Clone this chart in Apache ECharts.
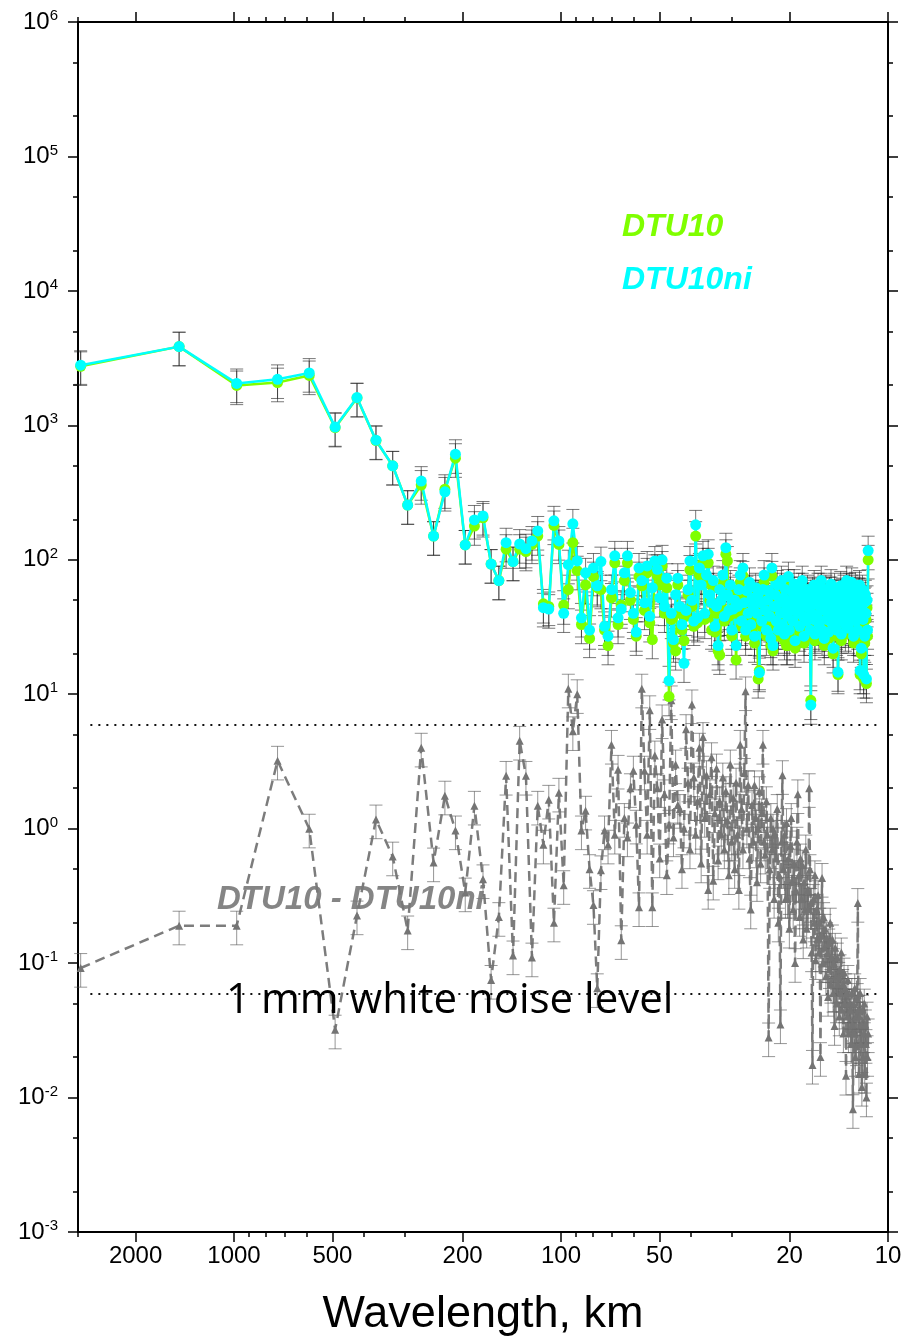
<!DOCTYPE html>
<html>
<head>
<meta charset="utf-8">
<script src="https://cdn.jsdelivr.net/npm/echarts@6/dist/echarts.min.js"></script>
<style>html,body{margin:0;padding:0;background:#fff}#chart{width:906px;height:1342px}</style>
</head>
<body>
<div id="chart"></div>
<script>
// Wavelength of each spectral estimate, km
const wavelengths = [2944,1472,981.3,736,588.8,490.7,420.6,368,327.1,294.4,
267.6,245.3,226.5,210.3,196.3,184,173.2,163.6,154.9,147.2,
140.2,133.8,128,122.7,117.8,113.2,109,105.1,101.5,98.13,
94.97,92,89.21,86.59,84.11,81.78,79.57,77.47,75.49,73.6,
71.8,70.1,68.47,66.91,65.42,64,62.64,61.33,60.08,58.88,
57.73,56.62,55.55,54.52,53.53,52.57,51.65,50.76,49.9,49.07,
48.26,47.48,46.73,46,45.29,44.61,43.94,43.29,42.67,42.06,
41.46,40.89,40.33,39.78,39.25,38.74,38.23,37.74,37.27,36.8,
36.35,35.9,35.47,35.05,34.64,34.23,33.84,33.45,33.08,32.71,
32.35,32,31.66,31.32,30.99,30.67,30.35,30.04,29.74,29.44,
29.15,28.86,28.58,28.31,28.04,27.77,27.51,27.26,27.01,26.76,
26.52,26.29,26.05,25.82,25.6,25.38,25.16,24.95,24.74,24.53,
24.33,24.13,23.93,23.74,23.55,23.37,23.18,23,22.82,22.65,
22.47,22.3,22.14,21.97,21.81,21.65,21.49,21.33,21.18,21.03,
20.88,20.73,20.59,20.44,20.3,20.16,20.03,19.89,19.76,19.63,
19.5,19.37,19.24,19.12,18.99,18.87,18.75,18.63,18.52,18.4,
18.29,18.17,18.06,17.95,17.84,17.73,17.63,17.52,17.42,17.32,
17.22,17.12,17.02,16.92,16.82,16.73,16.63,16.54,16.45,16.36,
16.27,16.18,16.09,16,15.91,15.83,15.74,15.66,15.58,15.49,
15.41,15.33,15.25,15.18,15.1,15.02,14.94,14.87,14.79,14.72,
14.65,14.57,14.5,14.43,14.36,14.29,14.22,14.15,14.09,14.02,
13.95,13.89,13.82,13.76,13.69,13.63,13.57,13.5,13.44,13.38,
13.32,13.26,13.2,13.14,13.08,13.03,12.97,12.91,12.86,12.8,
12.74,12.69,12.64,12.58,12.53,12.47,12.42,12.37,12.32,12.27,
12.22,12.17,12.12,12.07,12.02,11.97,11.92,11.87,11.82,11.78,
11.73,11.68,11.64,11.59,11.55,11.5];

const dtu10ni = [2800,3850,2050,2200,2450,970,1610,775,500,255,
385,150,320,610,129,198,212,93,70,134,
97,131,121,138,164,44,43,195,138,40,
92,185,98,37,80,30,87,64,97,32,
27,60,107,37,43,80,107,57,40,29,
87,70,48,90,38,62,98,85,52,100,
45,73,12.6,40,25.5,55,73,45,33,17,
42,60,98,50,35,182,37,87,65,107,
40,77,110,55,48,70,32,45,23,60,
50,77,38,123,55,42,65,30,43,50,
23,45,60,77,35,87,48,30,59,40,
68,33,52,45,27,62,40,55,14.5,48,
35,60,77,42,30,50,59,38,26,87,
23,45,55,35,65,30,48,40,70,33,
52,28,60,45,38,75,30,50,42,58,
35,66,25,48,55,40,62,32,50,45,
70,38,27,55,48,35,60,44,52,30,
8.3,40,58,36,65,28,47,55,38,62,
33,50,44,70,30,48,57,26,42,60,
36,53,45,29,58,40,66,34,50,22,
45,62,38,55,30,48,14.6,35,52,42,
64,28,46,57,37,60,43,33,54,70,
40,50,31,62,45,55,36,68,40,50,
27,58,44,63,35,52,47,30,57,40,
65,15,50,22,45,60,36,14,48,27,
55,40,13,50,30,117];

const dtu10 = [2750,3850,1980,2080,2350,960,1600,770,500,255,
360,150,335,570,129,178,205,93,70,120,
97,120,115,130,150,47,45,180,130,46,
60,134,83,33,65,26,75,62,60,30,
23,52,95,33,46,70,95,50,36,27,
75,64,42,80,34,25.5,85,76,65,90,
40,62,9.6,36,24,21,65,40,30,25,
38,55,84,45,32,150,34,77,77,95,
36,68,95,50,30,62,29,40,21,19.5,
45,68,35,110,98,38,58,27,40,45,
18,40,52,68,32,76,43,27,52,36,
60,30,46,40,24,55,36,13,15,43,
32,53,68,38,27,45,52,34,23,76,
21,40,48,32,57,27,43,36,62,30,
46,25,53,23,23,66,27,44,38,51,
32,58,22,43,49,36,55,29,45,40,
62,34,24,49,43,31,53,39,46,27,
9,36,51,32,57,25,42,49,34,55,
29,44,39,62,27,43,50,23,37,53,
32,47,40,26,51,36,58,30,44,20,
40,55,34,49,27,43,14,31,46,37,
56,25,41,50,33,53,38,29,48,62,
36,44,28,55,40,49,32,60,36,44,
24,51,39,56,31,46,42,27,50,36,
57,14,44,20,40,53,32,13,43,24,
49,36,12,44,27,100];

const difference = [0.092,0.19,0.19,3.2,1.0,0.032,0.226,1.17,0.62,0.175,
4.0,0.56,1.76,0.97,0.335,1.48,0.42,0.075,0.22,2.47,
0.114,4.5,2.47,0.11,1.48,0.76,1.64,0.2,1.85,0.38,
11,5.3,10,0.97,1.36,0.5,0.27,0.065,0.49,0.97,
0.76,4.2,0.9,2.74,0.148,1.2,0.86,2.0,2.7,1.07,
0.26,11,2.7,0.9,7.6,0.26,3.5,2.0,0.6,6.5,
1.8,0.45,1.07,9,0.86,3.0,1.5,1.4,0.5,1.0,
5.5,2.2,0.7,8.4,2.4,0.9,1.6,4.0,0.55,4.8,
1.2,2.5,0.35,1.8,3.4,0.41,1.3,2.8,0.58,1.6,
0.9,2.4,0.7,1.9,1.15,0.45,3.0,0.8,1.7,0.5,
2.2,0.9,0.35,4.2,1.4,0.7,2.6,10.5,1.0,2.1,
0.6,0.25,1.5,0.8,2.1,1.2,0.4,1.0,1.9,0.55,
1.3,4.2,0.8,0.64,1.6,0.9,0.028,0.5,1.2,0.7,
1.0,0.3,0.9,0.6,1.4,0.2,0.45,0.035,0.8,2.5,
0.5,0.9,0.3,1.1,0.3,0.6,0.18,0.75,1.2,0.4,
0.25,0.55,0.1,0.35,0.8,1.8,0.45,0.22,0.6,0.3,
0.54,0.15,0.4,0.25,0.7,0.18,0.35,0.25,2.0,0.5,
0.28,0.12,0.0175,0.3,0.2,0.45,0.105,0.25,0.15,0.32,
0.12,0.2,0.02,0.16,0.43,0.1,0.22,0.13,0.18,0.08,
0.156,0.12,0.056,0.14,0.09,0.2,0.07,0.11,0.15,0.06,
0.1,0.034,0.13,0.08,0.05,0.11,0.07,0.079,0.04,0.09,
0.06,0.12,0.045,0.07,0.03,0.085,0.05,0.065,0.0145,0.06,
0.04,0.075,0.03,0.05,0.05,0.045,0.025,0.06,0.035,0.0082,
0.05,0.03,0.065,0.02,0.04,0.024,0.055,0.28,0.045,0.015,
0.04,0.06,0.025,0.035,0.012,0.045,0.02,0.03,0.05,0.015,
0.035,0.025,0.01,0.04,0.02,0.03];

const relativeError = 0.28;            // 1-sigma error bar, fraction of value
const noiseLevels = [5.9, 0.059];      // dotted reference levels
const noiseSpan = [2750, 10.7];        // wavelength extent of dotted lines
const xMajorTicks = [2000, 1000, 500, 200, 100, 50, 20, 10];
const xMinorTicks = [3000, 900, 800, 700, 600, 400, 300, 90, 80, 70, 60, 40, 30];
const yMinorTicks = [0.002,0.005,0.02,0.05,0.2,0.5,2,5,20,50,200,500,2000,5000,20000,50000,200000,500000];

const FONT = '"Liberation Sans", Arial, Helvetica, sans-serif';
const lg = v => Math.log10(v);

function pts(values) { return wavelengths.map((w, i) => [w, values[i]]); }
function errs(values) { return wavelengths.map((w, i) => [w, values[i] * (1 - relativeError), values[i] * (1 + relativeError)]); }

function errorSeries(values, color, cap) {
  return {
    type: 'custom', xAxisIndex: 0, yAxisIndex: 0, silent: true,
    encode: { x: 0, y: [1, 2] },
    data: errs(values),
    renderItem: function (params, api) {
      const x = api.value(0), lo = api.value(1), hi = api.value(2);
      const a = api.coord([x, hi]), b = api.coord([x, lo]);
      const st = { stroke: color, lineWidth: 1, fill: null };
      return { type: 'group', children: [
        { type: 'line', shape: { x1: a[0], y1: a[1], x2: b[0], y2: b[1] }, style: st },
        { type: 'line', shape: { x1: a[0] - cap, y1: a[1], x2: a[0] + cap, y2: a[1] }, style: st },
        { type: 'line', shape: { x1: b[0] - cap, y1: b[1], x2: b[0] + cap, y2: b[1] }, style: st }
      ]};
    }
  };
}

const tickLine = { color: '#000', width: 1.5 };
const frameLine = { show: true, onZero: false, lineStyle: { color: '#000', width: 2 } };
const xLogMax = lg(3000);

const option = {
  animation: false,
  backgroundColor: '#fff',
  grid: { left: 78, right: 18, top: 22, bottom: 107, containLabel: false },
  xAxis: [
    { type: 'log', min: 10, max: 3000, inverse: true, show: false },
    { type: 'value', position: 'bottom', min: 1, max: xLogMax, inverse: true,
      axisLine: frameLine, splitLine: { show: false },
      axisTick: { show: true, length: 10, lineStyle: tickLine, customValues: xMajorTicks.map(lg) },
      axisLabel: { show: true, customValues: xMajorTicks.map(lg), margin: 12,
        formatter: v => String(Math.round(Math.pow(10, v))),
        fontSize: 24, fontFamily: FONT, color: '#000' },
      name: 'Wavelength, km', nameLocation: 'middle', nameGap: 60,
      nameTextStyle: { fontSize: 45, fontFamily: FONT, color: '#000' } },
    { type: 'value', position: 'bottom', min: 1, max: xLogMax, inverse: true,
      axisLine: { show: false, onZero: false }, splitLine: { show: false }, axisLabel: { show: false },
      axisTick: { show: true, length: 5, lineStyle: tickLine, customValues: xMinorTicks.map(lg) } },
    { type: 'value', position: 'top', min: 1, max: xLogMax, inverse: true,
      axisLine: frameLine, splitLine: { show: false }, axisLabel: { show: false },
      axisTick: { show: true, length: 10, lineStyle: tickLine, customValues: xMajorTicks.map(lg) } },
    { type: 'value', position: 'top', min: 1, max: xLogMax, inverse: true,
      axisLine: { show: false, onZero: false }, splitLine: { show: false }, axisLabel: { show: false },
      axisTick: { show: true, length: 5, lineStyle: tickLine, customValues: xMinorTicks.map(lg) } }
  ],
  yAxis: [
    { type: 'log', min: 0.001, max: 1000000, show: false },
    { type: 'value', position: 'left', min: -3, max: 6, interval: 1,
      axisLine: frameLine, splitLine: { show: false },
      axisTick: { show: true, length: 10, lineStyle: tickLine },
      axisLabel: { show: true, margin: 20,
        formatter: v => '{b|10}{s|' + Math.round(v) + '}',
        rich: {
          b: { fontSize: 24, fontFamily: FONT, color: '#000' },
          s: { fontSize: 15, fontFamily: FONT, color: '#000', padding: [0, 0, 12, 0] }
        } } },
    { type: 'value', position: 'left', min: -3, max: 6,
      axisLine: { show: false, onZero: false }, splitLine: { show: false }, axisLabel: { show: false },
      axisTick: { show: true, length: 5, lineStyle: tickLine, customValues: yMinorTicks.map(lg) } },
    { type: 'value', position: 'right', min: -3, max: 6, interval: 1,
      axisLine: frameLine, splitLine: { show: false }, axisLabel: { show: false },
      axisTick: { show: true, length: 10, lineStyle: tickLine } },
    { type: 'value', position: 'right', min: -3, max: 6,
      axisLine: { show: false, onZero: false }, splitLine: { show: false }, axisLabel: { show: false },
      axisTick: { show: true, length: 5, lineStyle: tickLine, customValues: yMinorTicks.map(lg) } }
  ],
  series: [
    ...noiseLevels.map(v => ({
      type: 'line', xAxisIndex: 0, yAxisIndex: 0, silent: true, symbol: 'none',
      data: [[noiseSpan[0], v], [noiseSpan[1], v]],
      lineStyle: { color: '#111', width: 2, type: [2, 6] }
    })),
    errorSeries(difference, 'rgba(80,80,80,0.6)', 6.5),
    { type: 'line', name: 'DTU10 - DTU10ni', xAxisIndex: 0, yAxisIndex: 0, data: pts(difference),
      symbol: 'triangle', symbolSize: 8, showSymbol: true,
      itemStyle: { color: '#747474' },
      lineStyle: { color: 'rgba(110,110,110,0.9)', width: 2.5, type: [10, 6] } },
    errorSeries(dtu10, 'rgba(30,30,30,0.6)', 6.5),
    { type: 'line', name: 'DTU10', xAxisIndex: 0, yAxisIndex: 0, data: pts(dtu10),
      symbol: 'circle', symbolSize: 11, showSymbol: true,
      itemStyle: { color: '#7fff00' },
      lineStyle: { color: '#7fff00', width: 2.5 } },
    errorSeries(dtu10ni, 'rgba(30,30,30,0.6)', 6.5),
    { type: 'line', name: 'DTU10ni', xAxisIndex: 0, yAxisIndex: 0, data: pts(dtu10ni),
      symbol: 'circle', symbolSize: 11, showSymbol: true,
      itemStyle: { color: '#00ffff' },
      lineStyle: { color: '#00ffff', width: 2.5 } }
  ],
  graphic: [
    { type: 'text', x: 622, y: 227, z: 100,
      style: { text: 'DTU10', fill: '#7fff00', font: 'italic bold 32px ' + FONT, verticalAlign: 'middle' } },
    { type: 'text', x: 622, y: 280, z: 100,
      style: { text: 'DTU10ni', fill: '#00ffff', font: 'italic bold 32px ' + FONT, verticalAlign: 'middle' } },
    { type: 'text', x: 217, y: 900, z: 100,
      style: { text: 'DTU10 - DTU10ni', fill: 'rgba(120,120,120,0.9)', font: 'italic bold 33px ' + FONT, verticalAlign: 'middle' } },
    { type: 'text', x: 226, y: 1001, z: 100,
      style: { text: '1 mm white noise level', fill: '#000', font: '42px "Open Sans", "Noto Sans", sans-serif', verticalAlign: 'middle' } }
  ]
};

const chart = echarts.init(document.getElementById('chart'), null, { renderer: 'canvas' });
chart.setOption(option);
</script>
</body>
</html>
